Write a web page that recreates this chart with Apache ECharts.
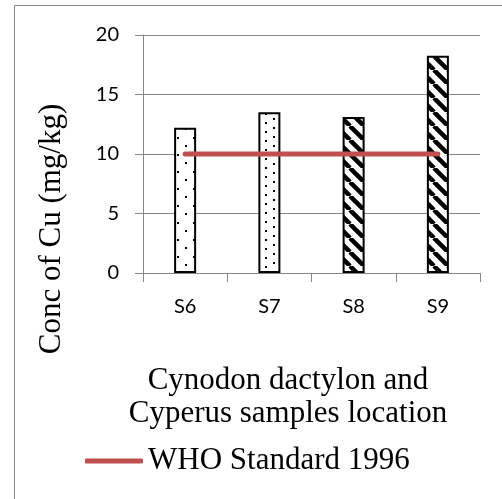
<!DOCTYPE html>
<html>
<head>
<meta charset="utf-8">
<script src="https://cdn.jsdelivr.net/npm/echarts@6/dist/echarts.min.js"></script>
<style>html,body{margin:0;padding:0;background:#fff;}#c{width:502px;height:499px;}</style>
</head>
<body>
<div id="c"></div>
<script>
const categories = ['S6', 'S7', 'S8', 'S9'];
const cuValues = [12.2, 13.5, 13.1, 18.25];
const whoValues = [10, 10, 10, 10];
const yTicks = [0, 5, 10, 15, 20];
const yTitle = 'Conc of Cu (mg/kg)';
const xTitle = 'Cynodon dactylon and\nCyperus samples location';
const legendName = 'WHO Standard 1996';

function dots(w, h, pts) {
  const c = document.createElement('canvas');
  c.width = w; c.height = h;
  const g = c.getContext('2d');
  g.fillStyle = '#fff'; g.fillRect(0, 0, w, h);
  g.fillStyle = '#000';
  pts.forEach(p => g.fillRect(p[0], p[1], 2, 2));
  return c;
}
function stripes(p, lw) {
  const c = document.createElement('canvas');
  c.width = p; c.height = p;
  const g = c.getContext('2d');
  g.fillStyle = '#fff'; g.fillRect(0, 0, p, p);
  g.strokeStyle = '#000'; g.lineWidth = lw;
  [[-p, 0], [0, 0], [p, 0]].forEach(o => {
    g.beginPath(); g.moveTo(o[0], 0); g.lineTo(o[0] + p, p); g.stroke();
  });
  return c;
}
const patterns = [
  dots(16, 17, [[1, 1], [9, 9]]),
  dots(16, 9, [[1, 1], [9, 5]]),
  stripes(14, 4.5),
  stripes(14, 4.5)
];

const chart = echarts.init(document.getElementById('c'));
const labelStyle = { color: '#000', fontFamily: 'Lato', fontSize: 20 };
chart.setOption({
  animation: false,
  grid: { left: 143, right: 22, top: 35, bottom: 226 },
  xAxis: {
    type: 'category', data: categories,
    axisLine: { lineStyle: { color: '#868686', width: 1 } },
    axisTick: { show: true, length: 9, lineStyle: { color: '#868686' } },
    axisLabel: Object.assign({ margin: 24 }, labelStyle)
  },
  yAxis: {
    type: 'value', min: 0, max: 20, interval: 5,
    axisLine: { show: true, lineStyle: { color: '#868686' } },
    axisTick: { show: true, length: 8, lineStyle: { color: '#868686' } },
    splitLine: { lineStyle: { color: '#868686', width: 1 } },
    axisLabel: Object.assign({ margin: 24, formatter: v => yTicks.includes(v) ? String(v) : '' }, labelStyle)
  },
  legend: {
    data: [{ name: legendName, icon: 'roundRect' }],
    left: 80, top: 439, itemWidth: 58, itemHeight: 5,
    textStyle: { fontFamily: 'Liberation Serif', fontSize: 31, color: '#000', lineHeight: 34 }
  },
  series: [
    {
      type: 'bar', barWidth: 22, name: 'Cu',
      data: cuValues.map((v, i) => ({
        value: v,
        itemStyle: { color: { image: patterns[i], repeat: 'repeat' }, borderColor: '#000', borderWidth: 2 }
      }))
    },
    {
      type: 'line', name: legendName, data: whoValues,
      symbol: 'none', z: 5,
      lineStyle: { color: '#C0504D', width: 5, cap: 'round' },
      itemStyle: { color: '#C0504D' }
    }
  ],
  graphic: [
    { type: 'rect', shape: { x: 14.5, y: 5.5, width: 600, height: 600 }, style: { fill: 'none', stroke: '#888', lineWidth: 1 }, silent: true, z: -1 },
    { type: 'text', x: 52, y: 229, rotation: Math.PI / 2,
      style: { text: yTitle, font: '31px "Liberation Serif"', fill: '#000', textAlign: 'center', textVerticalAlign: 'middle' } },
    { type: 'text', x: 288, y: 364,
      style: { text: xTitle, font: '31px "Liberation Serif"', fill: '#000', textAlign: 'center', textVerticalAlign: 'top', lineHeight: 33 } }
  ]
});
</script>
</body>
</html>
